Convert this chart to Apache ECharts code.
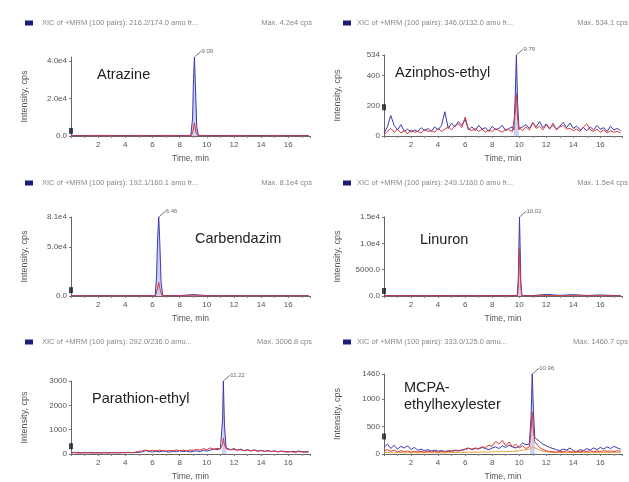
<!DOCTYPE html>
<html>
<head>
<meta charset="utf-8">
<script src="https://cdn.jsdelivr.net/npm/echarts@6/dist/echarts.min.js"></script>
<style>
  html, body { margin: 0; padding: 0; background: #ffffff; }
  #chart { width: 629px; height: 482px; }
</style>
</head>
<body>
<div id="chart"></div>
<script>
// ---- sampling grids (minutes) ----
const timeFine = [];                       // every 0.25 min, 0 .. 17.5
for (let i = 0; i <= 70; i++) timeFine.push(i * 0.25);
const timeCoarse = [0, 1, 2, 3, 4, 5, 6, 7, 8, 9, 10, 11, 12, 13, 14, 15, 16, 17, 17.5];

// ---- Atrazine (216.2/174.0) ----
const atrazineBlue = [300, 250, 320, 280, 260, 300, 240, 310, 270, 330, 290, 260, 300, 280, 250, 310, 270, 290, 260];
const atrazineRed  = [80, 60, 90, 70, 60, 80, 50, 90, 70, 100, 80, 60, 90, 70, 60, 80, 70, 60, 70];
const atrazinePeakBlue = [[8.82, 300], [8.95, 9000], [9.02, 30000], [9.09, 42000], [9.17, 25000], [9.26, 5000], [9.38, 300]];
const atrazinePeakRed  = [[8.85, 90], [8.98, 2500], [9.09, 7000], [9.2, 2000], [9.35, 90]];

// ---- Azinphos-ethyl ----
const azinphosBlue = [20, 60, 135, 70, 40, 75, 30, 45, 25, 40, 30, 55, 35, 50, 30, 60, 40, 70, 160, 50,
  85, 60, 95, 70, 110, 40, 60, 35, 70, 45, 55, 30, 65, 40, 50, 70, 35, 50, 60, 60,
  45, 60, 75, 50, 85, 60, 95, 55, 80, 50, 70, 45, 65, 90, 55, 85, 50, 65, 40, 55,
  35, 60, 40, 70, 45, 55, 30, 65, 40, 50, 35];
const azinphosRed = [10, 30, 50, 25, 45, 20, 35, 15, 40, 25, 30, 20, 45, 30, 35, 25, 50, 30, 45, 60,
  40, 70, 80, 55, 125, 45, 35, 50, 30, 45, 25, 40, 30, 50, 35, 25, 45, 40, 30, 40,
  55, 35, 60, 40, 90, 50, 65, 40, 75, 45, 85, 40, 60, 70, 45, 50, 35, 45, 30, 60,
  80, 40, 30, 45, 25, 40, 20, 35, 25, 30, 20];
const azinphosPeakBlue = [[9.6, 40], [9.7, 250], [9.79, 534.1], [9.88, 220], [9.98, 50]];
const azinphosPeakRed  = [[9.6, 30], [9.7, 150], [9.79, 280], [9.88, 120], [9.98, 40]];

// ---- Carbendazim (192.1/160.1) ----
const carbendazimBlue = [400, 350, 420, 380, 360, 400, 340, 410, 380, 1500, 390, 360, 400, 370, 350, 410, 380, 360, 370];
const carbendazimRed  = [100, 80, 110, 90, 80, 100, 70, 110, 90, 300, 100, 80, 110, 90, 80, 100, 90, 80, 90];
const carbendazimPeakBlue = [[6.2, 400], [6.3, 20000], [6.38, 60000], [6.46, 81000], [6.54, 55000], [6.63, 15000], [6.75, 400]];
const carbendazimPeakRed  = [[6.22, 100], [6.34, 6000], [6.46, 14000], [6.58, 5000], [6.72, 100]];

// ---- Linuron (249.1/160.0) ----
const linuronBlue = [100, 80, 90, 70, 100, 80, 90, 70, 100, 90, 100, 80, 300, 120, 250, 100, 200, 90, 110];
const linuronRed  = [40, 30, 35, 30, 40, 30, 35, 30, 40, 35, 40, 30, 90, 40, 80, 35, 60, 30, 40];
const linuronPeakBlue = [[9.85, 100], [9.93, 3000], [9.98, 10000], [10.02, 15000], [10.07, 9000], [10.12, 2500], [10.2, 100]];
const linuronPeakRed  = [[9.88, 50], [9.96, 4000], [10.02, 9000], [10.08, 3500], [10.18, 50]];

// ---- Parathion-ethyl (292.0/236.0) ----
const parathionBlue = [80, 60, 70, 50, 65, 55, 70, 50, 60, 45, 65, 55, 50, 60, 45, 55, 50, 65, 55, 60,
  70, 90, 140, 100, 80, 110, 90, 120, 100, 80, 110, 90, 130, 100, 120, 90, 110, 130, 100, 150,
  120, 160, 200, 180, 220, 240, 250, 180, 220, 160, 200, 140, 180, 130, 170, 120, 150, 110, 140, 100,
  130, 90, 120, 100, 80, 110, 90, 120, 100, 90, 110];
const parathionRed = [40, 50, 35, 45, 40, 50, 35, 45, 40, 50, 45, 40, 55, 45, 50, 60, 55, 70, 60, 80,
  100, 130, 160, 120, 150, 130, 160, 140, 120, 150, 130, 170, 140, 160, 130, 170, 150, 190, 160, 220,
  180, 250, 200, 230, 210, 220, 200, 170, 190, 150, 180, 140, 160, 130, 150, 120, 140, 110, 130, 100,
  120, 90, 110, 80, 100, 90, 70, 100, 80, 70, 90];
const parathionPeakBlue = [[11.1, 200], [11.16, 1400], [11.22, 3006.8], [11.3, 1200], [11.42, 250]];
const parathionPeakRed  = [[11.1, 220], [11.16, 420], [11.22, 650], [11.3, 380], [11.42, 220]];

// ---- MCPA-ethylhexylester ----
const mcpaBlue = [120, 180, 100, 160, 90, 140, 110, 150, 80, 120, 70, 90, 60, 80, 55, 70, 50, 65, 45, 60,
  55, 70, 60, 75, 90, 110, 80, 100, 90, 120, 100, 80, 110, 130, 100, 150, 120, 160, 130, 110,
  140, 200, 170, 180, 200, 280, 230, 180, 150, 120, 100, 80, 60, 90, 70, 110, 60, 40, 80, 60,
  100, 70, 110, 80, 120, 90, 130, 100, 140, 110, 90];
const mcpaRed = [60, 80, 50, 70, 40, 60, 45, 55, 35, 50, 40, 45, 35, 50, 40, 45, 35, 50, 40, 45,
  50, 60, 55, 70, 80, 100, 90, 110, 100, 130, 120, 160, 140, 230, 180, 250, 150, 220, 130, 180,
  110, 150, 100, 130, 150, 200, 120, 80, 60, 45, 40, 35, 50, 40, 60, 45, 35, 50, 40, 55,
  45, 60, 40, 55, 45, 60, 50, 55, 45, 60, 50];
const mcpaOrange = [30, 25, 30, 20, 25, 30, 20, 25, 20, 25, 20, 25, 20, 25, 20, 25, 20, 25, 20, 25,
  30, 25, 30, 25, 30, 35, 30, 35, 30, 40, 35, 40, 35, 45, 40, 45, 40, 50, 45, 55,
  60, 70, 80, 90, 130, 100, 70, 50, 40, 35, 30, 30, 25, 30, 25, 30, 25, 30, 25, 30,
  25, 30, 25, 30, 25, 30, 25, 30, 25, 30, 25];
const mcpaPeakBlue = [[10.8, 180], [10.88, 700], [10.96, 1460.7], [11.05, 800], [11.15, 300]];
const mcpaPeakRed  = [[10.8, 130], [10.88, 450], [10.96, 760], [11.05, 420], [11.15, 220]];

// ---- axis ticks / labels ----
const yTickValues = [
  [0, 20000, 40000],
  [0, 200, 400, 534.1],
  [0, 50000, 81000],
  [0, 5000, 10000, 15000],
  [0, 1000, 2000, 3000],
  [0, 500, 1000, 1460.7]
];
const yTickLabels = [
  ['0.0', '2.0e4', '4.0e4'],
  ['0', '200', '400', '534'],
  ['0.0', '5.0e4', '8.1e4'],
  ['0.0', '5000.0', '1.0e4', '1.5e4'],
  ['0', '1000', '2000', '3000'],
  ['0', '500', '1000', '1460']
];
const yMax = [42000, 534.1, 81000, 15000, 3006.8, 1460.7];
const markerLevels = [2700, 190, 6000, 950, 320, 320];
const xMax = 17.6;

// ---- panel texts ----
const compoundNames = ['Atrazine', 'Azinphos-ethyl', 'Carbendazim', 'Linuron', 'Parathion-ethyl', 'MCPA-\nethylhexylester'];
const xicHeaders = [
  'XIC of +MRM (100 pairs): 216.2/174.0 amu fr...',
  'XIC of +MRM (100 pairs): 346.0/132.0 amu fr...',
  'XIC of +MRM (100 pairs): 192.1/160.1 amu fr...',
  'XIC of +MRM (100 pairs): 249.1/160.0 amu fr...',
  'XIC of +MRM (100 pairs): 292.0/236.0 amu...',
  'XIC of +MRM (100 pairs): 333.0/125.0 amu...'
];
const maxTexts = ['Max. 4.2e4 cps', 'Max. 534.1 cps', 'Max. 8.1e4 cps', 'Max. 1.5e4 cps', 'Max. 3006.8 cps', 'Max. 1460.7 cps'];

// ---- layout ----
const BLUE = '#3a3aae', RED = '#d83a3a', ORANGE = '#e8a23c', FILL = 'rgba(140,140,222,0.6)';
const grids = [
  { left: 71, top: 57, width: 239, height: 79 },
  { left: 384, top: 55, width: 238, height: 81 },
  { left: 71, top: 217, width: 239, height: 79 },
  { left: 384, top: 217, width: 238, height: 79 },
  { left: 71, top: 381, width: 239, height: 75 },
  { left: 384, top: 374, width: 238, height: 82 }
];
const titlePos = [[97, 75], [395, 73], [195, 239], [420, 240], [92, 399], [404, 396]];
const headerY = [23, 23, 183, 183, 342, 342];

const panelData = [
  { times: timeCoarse, blue: atrazineBlue, red: atrazineRed, peakBlue: atrazinePeakBlue, peakRed: atrazinePeakRed },
  { times: timeFine, blue: azinphosBlue, red: azinphosRed, peakBlue: azinphosPeakBlue, peakRed: azinphosPeakRed },
  { times: timeCoarse, blue: carbendazimBlue, red: carbendazimRed, peakBlue: carbendazimPeakBlue, peakRed: carbendazimPeakRed },
  { times: timeCoarse, blue: linuronBlue, red: linuronRed, peakBlue: linuronPeakBlue, peakRed: linuronPeakRed },
  { times: timeFine, blue: parathionBlue, red: parathionRed, peakBlue: parathionPeakBlue, peakRed: parathionPeakRed },
  { times: timeFine, blue: mcpaBlue, red: mcpaRed, peakBlue: mcpaPeakBlue, peakRed: mcpaPeakRed, orange: mcpaOrange }
];

// baseline trace with the peak samples spliced in
function withPeak(times, vals, peak) {
  const lo = peak[0][0], hi = peak[peak.length - 1][0];
  const pts = [];
  times.forEach((t, i) => { if (t < lo || t > hi) pts.push([t, vals[i]]); });
  return pts.concat(peak).sort((a, b) => a[0] - b[0]);
}
function zip(times, vals) { return times.map((t, i) => [t, vals[i]]); }

const gridOpts = [], xAxes = [], yAxes = [], series = [], graphics = [];

panelData.forEach((p, k) => {
  gridOpts.push(grids[k]);
  xAxes.push({
    gridIndex: k, type: 'value', min: 0, max: xMax, interval: 2,
    name: 'Time, min', nameLocation: 'middle', nameGap: 18,
    nameTextStyle: { fontSize: 8.5, color: '#555', fontFamily: 'Liberation Sans' },
    axisLine: { show: true, onZero: false, lineStyle: { color: '#666', width: 1 } },
    axisTick: { show: true, length: 2, lineStyle: { color: '#777' } },
    minorTick: { show: true, splitNumber: 2, length: 2, lineStyle: { color: '#888' } },
    splitLine: { show: false },
    axisLabel: { showMinLabel: false, showMaxLabel: false, fontSize: 8, color: '#555', margin: 5, fontFamily: 'Liberation Sans' }
  });
  const labels = yTickLabels[k], vals = yTickValues[k];
  yAxes.push({
    gridIndex: k, type: 'value', min: 0, max: yMax[k],
    name: 'Intensity, cps', nameLocation: 'middle', nameGap: 42, nameRotate: 90,
    nameTextStyle: { fontSize: 9, color: '#555', fontFamily: 'Liberation Sans' },
    axisLine: { show: true, lineStyle: { color: '#666', width: 1 } },
    axisTick: { show: true, length: 2, customValues: vals, lineStyle: { color: '#777' } },
    splitLine: { show: false },
    axisLabel: {
      customValues: vals, fontSize: 8, color: '#555', margin: 4, fontFamily: 'Liberation Sans',
      formatter: v => { const i = vals.findIndex(x => Math.abs(x - v) < 1e-6); return i >= 0 ? labels[i] : ''; }
    }
  });

  const common = { xAxisIndex: k, yAxisIndex: k, type: 'line', symbol: 'none', silent: true, animation: false };
  // integrated peak area
  series.push(Object.assign({}, common, { data: p.peakBlue, lineStyle: { width: 0 }, areaStyle: { color: FILL }, z: 1 }));
  if (p.orange) series.push(Object.assign({}, common, { data: zip(p.times, p.orange), lineStyle: { color: ORANGE, width: 1 }, z: 2 }));
  series.push(Object.assign({}, common, { data: withPeak(p.times, p.blue, p.peakBlue), lineStyle: { color: BLUE, width: 1 }, z: 3 }));
  series.push(Object.assign({}, common, { data: withPeak(p.times, p.red, p.peakRed), lineStyle: { color: RED, width: 1 }, z: 4 }));

  // retention time label on the apex
  const apex = p.peakBlue.reduce((a, b) => (b[1] > a[1] ? b : a));
  series.push({
    type: 'scatter', xAxisIndex: k, yAxisIndex: k, symbolSize: 0, silent: true, animation: false,
    data: [apex],
    label: { show: true, position: 'right', formatter: d => d.value[0].toFixed(2), fontSize: 6, color: '#444', fontFamily: 'Liberation Sans' },
    labelLayout: { dx: 2, dy: -6 },
    labelLine: { show: true, lineStyle: { color: '#555', width: 0.8 } }
  });
  // threshold marker on the intensity axis
  series.push({
    type: 'scatter', xAxisIndex: k, yAxisIndex: k, symbol: 'rect', symbolSize: [4, 6], silent: true, animation: false,
    itemStyle: { color: '#1a1a2e' }, data: [[0, markerLevels[k]]], z: 5
  });

  // header line
  const col2 = k % 2 === 1;
  const sqX = col2 ? 343 : 25, txX = col2 ? 357 : 42, maxX = col2 ? 628 : 312;
  graphics.push({ type: 'rect', shape: { x: sqX, y: headerY[k] - 2.5, width: 8, height: 5 }, style: { fill: '#1c1c78' } });
  graphics.push({ type: 'text', x: txX, y: headerY[k], style: { text: xicHeaders[k], fontSize: 7.5, fill: '#888', verticalAlign: 'middle', fontFamily: 'Liberation Sans' } });
  graphics.push({ type: 'text', x: maxX, y: headerY[k], style: { text: maxTexts[k], fontSize: 7.5, fill: '#888', align: 'right', verticalAlign: 'middle', fontFamily: 'Liberation Sans' } });
  // compound name
  graphics.push({ type: 'text', x: titlePos[k][0], y: titlePos[k][1], z: 10,
    style: { text: compoundNames[k], fontSize: 14.5, fill: '#222', verticalAlign: 'middle', lineHeight: 17, fontFamily: 'Liberation Sans' } });
});

const chart = echarts.init(document.getElementById('chart'), null, { renderer: 'canvas' });
chart.setOption({
  backgroundColor: '#ffffff',
  animation: false,
  grid: gridOpts,
  xAxis: xAxes,
  yAxis: yAxes,
  series: series,
  graphic: graphics
});
</script>
</body>
</html>
